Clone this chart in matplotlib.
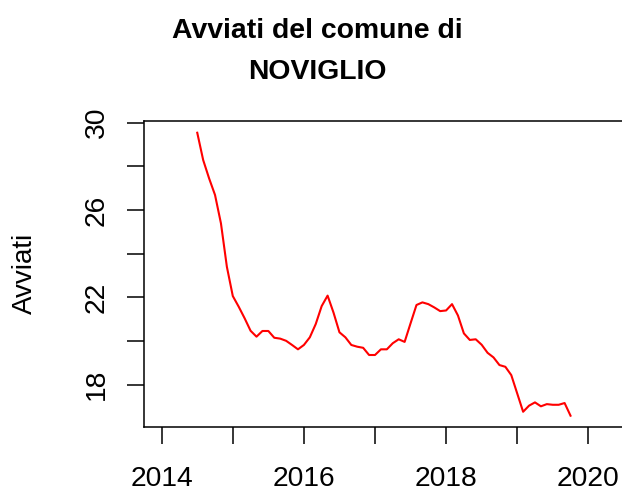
import matplotlib
matplotlib.use("Agg")
import matplotlib.pyplot as plt
import numpy as np

plt.rcParams['font.family'] = ['Liberation Sans', 'DejaVu Sans']

# Monthly series starting July 2014
start_year = 2014
start_month = 7
avviati = [29.54, 28.29, 27.45, 26.69, 25.39, 23.40, 22.06, 21.57, 21.04, 20.47,
           20.20, 20.46, 20.46, 20.15, 20.11, 20.01, 19.82, 19.62, 19.82, 20.17,
           20.78, 21.60, 22.08, 21.30, 20.40, 20.17, 19.82, 19.74, 19.69, 19.36,
           19.36, 19.62, 19.62, 19.90, 20.08, 19.96, 20.81, 21.65, 21.77, 21.69,
           21.54, 21.37, 21.40, 21.69, 21.17, 20.35, 20.05, 20.08, 19.83, 19.46,
           19.25, 18.90, 18.82, 18.44, 17.60, 16.76, 17.04, 17.19, 17.01, 17.11,
           17.08, 17.08, 17.16, 16.58]
x_ticks = [2014, 2015, 2016, 2017, 2018, 2019, 2020]
x_tick_labels = ['2014', '', '2016', '', '2018', '', '2020']
y_ticks = [18, 20, 22, 24, 26, 28, 30]
y_tick_labels = ['18', '', '22', '', '26', '', '30']
title_lines = ["Avviati del comune di", "NOVIGLIO"]
ylabel = "Avviati"

t = start_year + (start_month - 1) / 12 + np.arange(len(avviati)) / 12

W, H = 622, 493
fig = plt.figure(figsize=(W / 100, H / 100), dpi=100)
left_px, right_px, top_px, bottom_px = 143.5, 640, 120.7, 426.7
ax = fig.add_axes([left_px / W, 1 - bottom_px / H, (right_px - left_px) / W, (bottom_px - top_px) / H])

ax.plot(t, avviati, color='red', linewidth=1.5)

# axis mapping from reference pixels
px_per_year = 71.1
x0 = 2014 - (161.7 - left_px) / px_per_year
x1 = 2014 + (right_px - 161.7) / px_per_year
ax.set_xlim(x0, x1)
px_per_unit = 21.83
y_top = 30 + (122.7 - top_px) / px_per_unit
y_bot = 18 - (bottom_px - 384.7) / px_per_unit
ax.set_ylim(y_bot, y_top)

ax.set_xticks(x_ticks)
ax.set_xticklabels(x_tick_labels)
ax.set_yticks(y_ticks)
ax.set_yticklabels(y_tick_labels, rotation=90, va='center')

ax.tick_params(axis='both', length=12.5, width=1.1, labelsize=20.3, color='black')
ax.tick_params(axis='x', pad=16)
ax.tick_params(axis='y', pad=12)
for s in ax.spines.values():
    s.set_linewidth(1.1)
ax.spines['right'].set_visible(False)

ax.set_ylabel(ylabel, fontsize=20)
ax.yaxis.label.set_va('center')
ax.yaxis.set_label_coords(-(left_px - 25) / (right_px - left_px), 1 - (273 - top_px) / (bottom_px - top_px))

cx = 317.5 / W
fig.text(cx, 1 - 38.3 / H, title_lines[0], ha='center', va='baseline', fontsize=20.4, fontweight='bold')
fig.text(cx, 1 - 79.3 / H, title_lines[1], ha='center', va='baseline', fontsize=20.4, fontweight='bold')

fig.savefig('out.png', dpi=100)
